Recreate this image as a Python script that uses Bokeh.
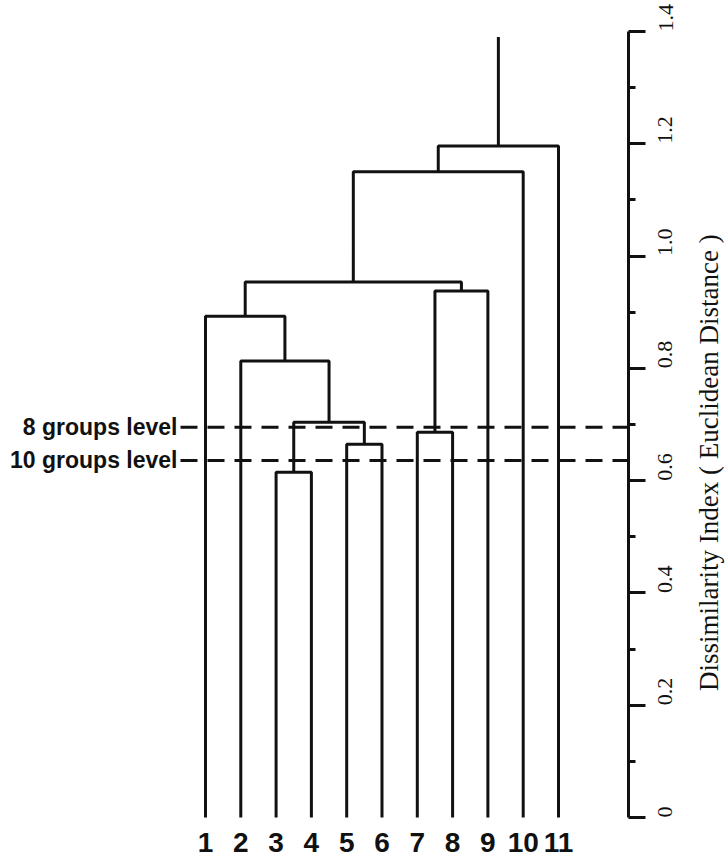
import math
from bokeh.plotting import figure
from bokeh.layouts import row
from bokeh.models import Range1d, FixedTicker
from bokeh.core.properties import value
from bokeh.embed import file_html
from bokeh.resources import INLINE

# ---- data ----
leaf_labels = ["1", "2", "3", "4", "5", "6", "7", "8", "9", "10", "11"]
# linkage: clusters 0..10 are leaves, each merge creates cluster 11, 12, ...
merge_left = [2, 4, 6, 11, 1, 0, 13, 16, 18, 19]
merge_right = [3, 5, 7, 12, 14, 15, 8, 17, 9, 10]
merge_height = [0.615, 0.665, 0.686, 0.704, 0.813, 0.893, 0.938, 0.954, 1.150, 1.196]
root_height = 1.39

cut_levels = [0.695, 0.636]
cut_labels = ["8 groups level", "10 groups level"]

y_ticks = [0, 0.2, 0.4, 0.6, 0.8, 1.0, 1.2, 1.4]
y_tick_labels = ["0", "0.2", "0.4", "0.6", "0.8", "1.0", "1.2", "1.4"]
y_minor_ticks = [0.1, 0.3, 0.5, 0.7, 0.9, 1.1, 1.3]
axis_title = "Dissimilarity Index ( Euclidean Distance )"

# ---- build dendrogram segments ----
n = len(leaf_labels)
leaf_x = [float(i + 1) for i in range(n)]
node_x = {i: leaf_x[i] for i in range(n)}
node_h = {i: 0.0 for i in range(n)}
xs, ys = [], []
for k, (a, b, h) in enumerate(zip(merge_left, merge_right, merge_height)):
    xa, xb = node_x[a], node_x[b]
    xs.append([xa, xa, xb, xb])
    ys.append([node_h[a], h, h, node_h[b]])
    node_x[n + k] = (xa + xb) / 2.0
    node_h[n + k] = h
top = n + len(merge_height) - 1
xs.append([node_x[top], node_x[top]])
ys.append([node_h[top], root_height])

INK = "#111111"
x_lo, x_hi = -4.807, 12.983
y_range = Range1d(-0.0766, 1.4)

p = figure(width=692, height=860,
           x_range=Range1d(x_lo, x_hi), y_range=y_range,
           output_backend="svg", toolbar_location=None,
           x_axis_location=None, y_axis_location="right",
           min_border_left=0, min_border_top=31,
           min_border_right=64, min_border_bottom=0)
p.grid.visible = False
p.outline_line_color = None
p.background_fill_color = "white"
p.border_fill_color = "white"

p.multi_line(xs, ys, line_color=INK, line_width=3)

# leaf labels
p.text(x=leaf_x, y=[0.0] * n, text=leaf_labels, y_offset=25,
       text_align="center", text_baseline="alphabetic",
       text_font=value("Liberation Sans"), text_font_style="bold",
       text_font_size="28px", text_color=INK)

# cut levels
dash_start = 0.292
for lvl, lab in zip(cut_levels, cut_labels):
    p.segment(x0=dash_start, x1=x_hi, y0=lvl, y1=lvl,
              line_color=INK, line_width=3, line_dash="17 10")
    p.text(x=[dash_start], y=[lvl], text=[lab], x_offset=-3,
           text_align="right", text_baseline="middle",
           text_font=value("Liberation Sans"), text_font_style="bold",
           text_font_size="23px", text_color=INK)

# right y axis
ya = p.yaxis[0]
ya.bounds = (0, 1.4)
ya.ticker = FixedTicker(ticks=y_ticks, minor_ticks=y_minor_ticks)
ya.major_label_overrides = {t: s for t, s in zip(y_ticks, y_tick_labels)}
ya.axis_line_width = 3
ya.axis_line_color = INK
ya.major_tick_in = 0
ya.major_tick_out = 17
ya.minor_tick_in = 0
ya.minor_tick_out = 7
ya.major_tick_line_width = 3
ya.minor_tick_line_width = 3
ya.major_tick_line_color = INK
ya.minor_tick_line_color = INK
ya.major_label_orientation = math.pi / 2
ya.major_label_text_align = "center"
ya.major_label_text_baseline = "middle"
ya.major_label_standoff = 20
ya.major_label_text_font = "Liberation Serif"
ya.major_label_text_font_size = "22px"
ya.major_label_text_color = INK

# axis title in a narrow strip to the right, sharing the y scale
t = figure(width=33, height=860, x_range=Range1d(0, 1), y_range=y_range,
           output_backend="svg", toolbar_location=None,
           x_axis_location=None, y_axis_location=None,
           min_border_left=0, min_border_top=31,
           min_border_right=0, min_border_bottom=0)
t.grid.visible = False
t.outline_line_color = None
t.background_fill_color = "white"
t.border_fill_color = "white"
t.text(x=[0.5], y=[0.632], text=[axis_title], angle=math.pi / 2,
       text_align="center", text_baseline="middle",
       text_font=value("Liberation Serif"), text_font_size="27px",
       text_color=INK)

open("out.html", "w").write(file_html(row(p, t), INLINE))
